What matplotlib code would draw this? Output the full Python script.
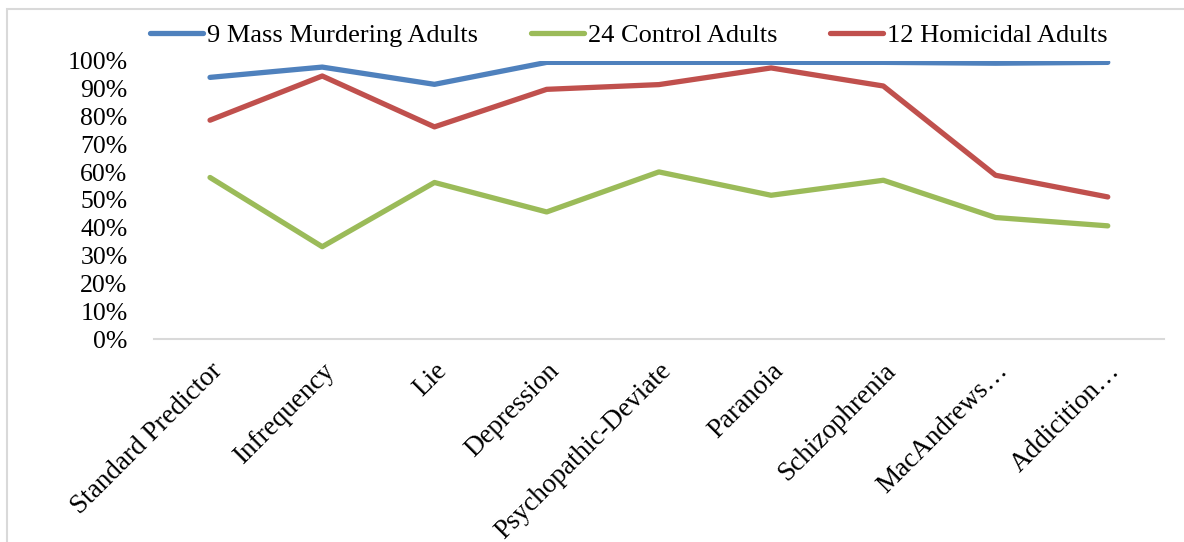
import matplotlib
matplotlib.use("Agg")
import matplotlib.pyplot as plt
from matplotlib.ticker import PercentFormatter, FixedLocator
from matplotlib.patches import Rectangle

plt.rcParams['font.family'] = ['Liberation Serif', 'DejaVu Serif']

categories = ["Standard Predictor", "Infrequency", "Lie", "Depression",
              "Psychopathic-Deviate", "Paranoia", "Schizophrenia",
              "MacAndrews\u2026", "Addicition\u2026"]

mass_murdering = [94.1, 97.8, 91.6, 99.5, 99.5, 99.5, 99.5, 99.2, 99.5]
control = [58.1, 33.2, 56.3, 45.7, 60.1, 51.7, 57.1, 43.7, 40.7]
homicidal = [78.7, 94.6, 76.3, 89.8, 91.5, 97.5, 91.0, 58.9, 51.1]

series_names = ["9 Mass Murdering Adults", "24 Control Adults", "12 Homicidal Adults"]
colors = ["#4F81BD", "#9BBB59", "#C0504D"]

fig = plt.figure(figsize=(11.84, 5.42), dpi=100)
ax = fig.add_axes([0.130, 0.3745, 0.853, 0.513])

x = list(range(len(categories)))
for vals, name, c in zip([mass_murdering, control, homicidal], series_names, colors):
    ax.plot(x, vals, color=c, lw=3.8, label=name, solid_capstyle='round',
            solid_joinstyle='round')

ax.set_xlim(-0.5, len(categories) - 0.5)
ax.set_ylim(0, 100)
ax.yaxis.set_major_locator(FixedLocator(range(0, 101, 10)))
ax.yaxis.set_major_formatter(PercentFormatter(decimals=0))
ax.set_xticks(x)
ax.set_xticklabels(categories, rotation=45, ha='right', va='top',
                   rotation_mode='anchor')
ax.tick_params(axis='both', length=0)
ax.tick_params(axis='x', pad=14, labelsize=19.5)
ax.tick_params(axis='y', pad=19, labelsize=18.5)

for s in ['top', 'right', 'left']:
    ax.spines[s].set_visible(False)
ax.spines['bottom'].set_color('#D9D9D9')
ax.spines['bottom'].set_linewidth(1.5)

fig.legend(loc='center', bbox_to_anchor=(0.531, 0.935), ncol=3, frameon=False,
           fontsize=19, handlelength=2.0, handletextpad=0.15, columnspacing=2.0)

# chart frame (Excel style)
fig.patches.append(Rectangle((0.006, -0.05), 1.2, 1.033, transform=fig.transFigure,
                             fill=False, edgecolor='#D9D9D9', lw=1.5))

fig.savefig("out.png", dpi=100)
